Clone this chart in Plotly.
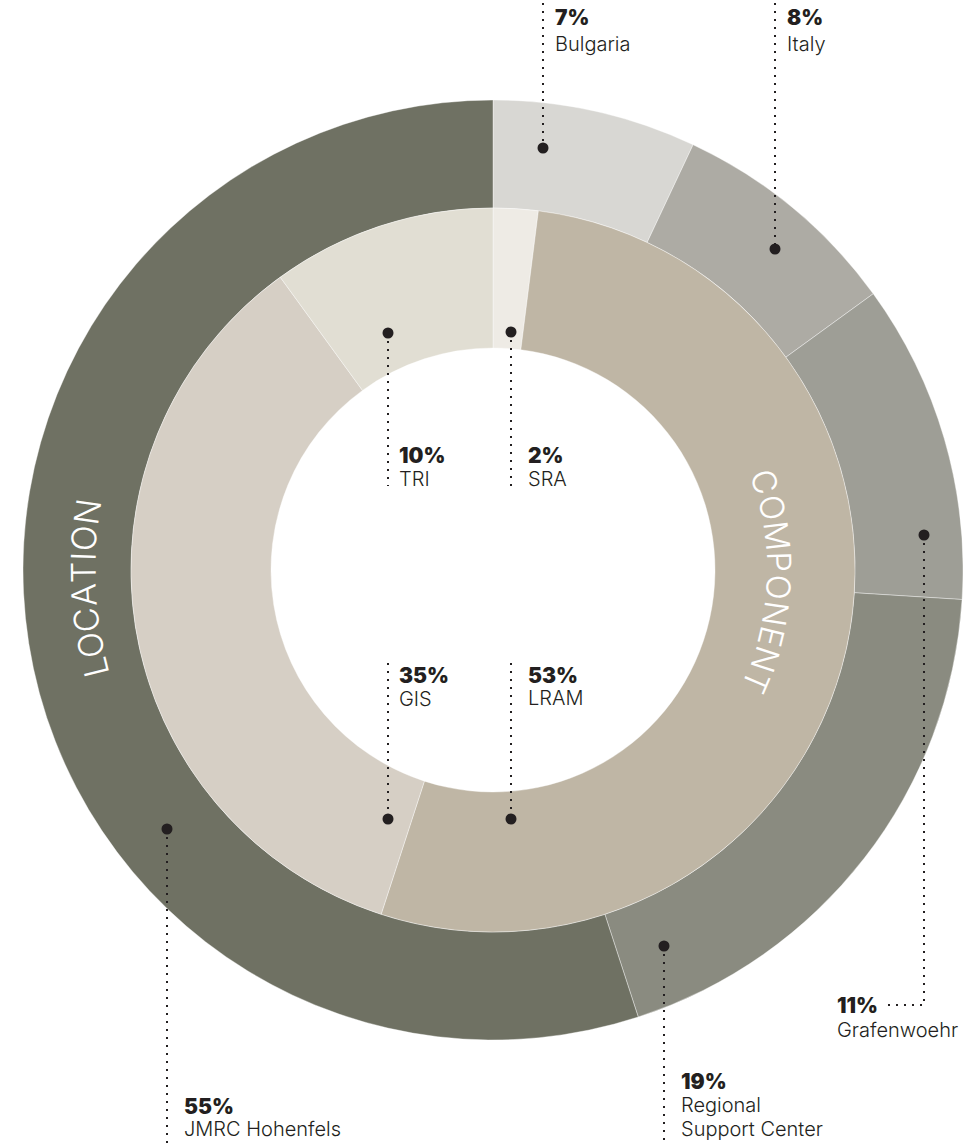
import math
import plotly.graph_objects as go

W, H = 963, 1144
CX, CY = 493, 570
R_OUT, R_MID, R_HOLE = 470, 362, 222
INK = "#231f20"

location_labels = ["Bulgaria", "Italy", "Grafenwoehr", "Regional Support Center", "JMRC Hohenfels"]
location_values = [7, 8, 11, 19, 55]
location_colors = ["#d8d7d3", "#adaba4", "#9e9e96", "#8a8b80", "#6f7163"]

component_labels = ["SRA", "LRAM", "GIS", "TRI"]
component_values = [2, 53, 35, 10]
component_colors = ["#eeebe5", "#bfb6a5", "#d6cfc5", "#e1ded3"]


def px(x):
    return x / W


def py(y):
    return 1 - y / H


fig = go.Figure()

fig.add_trace(
    go.Pie(
        labels=location_labels,
        values=location_values,
        sort=False,
        direction="clockwise",
        rotation=0,
        hole=R_MID / R_OUT,
        marker=dict(colors=location_colors, line=dict(color="rgba(255,255,255,0.55)", width=0.7)),
        textinfo="none",
        hoverinfo="label+percent",
        showlegend=False,
        domain=dict(x=[px(CX - R_OUT), min(1, px(CX + R_OUT))], y=[py(CY + R_OUT), py(CY - R_OUT)]),
    )
)
fig.add_trace(
    go.Pie(
        labels=component_labels,
        values=component_values,
        sort=False,
        direction="clockwise",
        rotation=0,
        hole=R_HOLE / R_MID,
        marker=dict(colors=component_colors, line=dict(color="rgba(255,255,255,0.55)", width=0.7)),
        textinfo="none",
        hoverinfo="label+percent",
        showlegend=False,
        domain=dict(x=[px(CX - R_MID), px(CX + R_MID)], y=[py(CY + R_MID), py(CY - R_MID)]),
    )
)

# callouts: percent text, name lines, dot position, leader path, text left, first line centre, line gap
callouts = [
    ("7%", ["Bulgaria"], (543, 148), [(543, 3), (543, 148)], 553, 18, 26),
    ("8%", ["Italy"], (775, 249), [(775, 3), (775, 249)], 785, 18, 26),
    ("11%", ["Grafenwoehr"], (924, 535), [(924, 535), (924, 1005), (887, 1005)], 835, 1005, 25),
    ("19%", ["Regional", "Support Center"], (664, 946), [(664, 946), (664, 1144)], 679, 1081, 24),
    ("55%", ["JMRC Hohenfels"], (167, 829), [(167, 829), (167, 1144)], 182, 1106, 23),
    ("10%", ["TRI"], (388, 333), [(388, 333), (388, 486)], 397, 455, 24),
    ("2%", ["SRA"], (511, 332), [(511, 332), (511, 486)], 526, 455, 24),
    ("35%", ["GIS"], (388, 819), [(388, 663), (388, 819)], 397, 675, 24),
    ("53%", ["LRAM"], (511, 819), [(511, 663), (511, 819)], 526, 675, 23),
]

for pct, names, dot, path, tx, ty, gap in callouts:
    d = "M " + " L ".join(f"{px(x):.5f} {py(y):.5f}" for x, y in path)
    fig.add_shape(
        type="path", path=d, xref="paper", yref="paper", layer="above",
        line=dict(color=INK, width=2, dash="2px,6px"),
    )
    r = 5.5
    fig.add_shape(
        type="circle", xref="paper", yref="paper", layer="above",
        x0=px(dot[0] - r), x1=px(dot[0] + r), y0=py(dot[1] + r), y1=py(dot[1] - r),
        fillcolor=INK, line=dict(width=0),
    )
    fig.add_annotation(
        x=px(tx), y=py(ty), xref="paper", yref="paper", text=pct, showarrow=False,
        xanchor="left", yanchor="middle",
        font=dict(family="Inter", size=21, color=INK, weight=900),
    )
    for i, name in enumerate(names):
        fig.add_annotation(
            x=px(tx), y=py(ty + gap * (i + 1)), xref="paper", yref="paper", text=name,
            showarrow=False, xanchor="left", yanchor="middle",
            font=dict(family="Inter", size=20, color=INK, weight=300),
        )

# curved ring titles
CAP_W = {"C": .72, "O": .78, "M": .88, "P": .62, "N": .75, "E": .58, "T": .6, "L": .52, "A": .7, "I": .3}


def arc_text(word, radius, a0, a1, flip, size):
    w = [CAP_W[c] for c in word]
    centres = [sum(w[:i]) + w[i] / 2 for i in range(len(w))]
    span = centres[-1] - centres[0]
    for c, pos in zip(word, centres):
        ang = a0 + (a1 - a0) * (pos - centres[0]) / span
        rad = math.radians(ang)
        x = CX + radius * math.sin(rad)
        y = CY - radius * math.cos(rad)
        fig.add_annotation(
            x=px(x), y=py(y), xref="paper", yref="paper", text=c, showarrow=False,
            xanchor="center", yanchor="middle", textangle=ang - flip,
            font=dict(family="Inter", size=size, color="white", weight=300),
        )


arc_text("COMPONENT", 286, 72, 113, 0, 33)
arc_text("LOCATION", 410, 256.3, 278.2, 360, 34)

fig.update_layout(
    width=W,
    height=H,
    margin=dict(l=0, r=0, t=0, b=0),
    paper_bgcolor="white",
    plot_bgcolor="white",
    showlegend=False,
)
fig.write_html(
    "out.html",
    config={"displayModeBar": False},
    post_script="document.body.style.margin='0';document.body.style.overflow='hidden';",
)
